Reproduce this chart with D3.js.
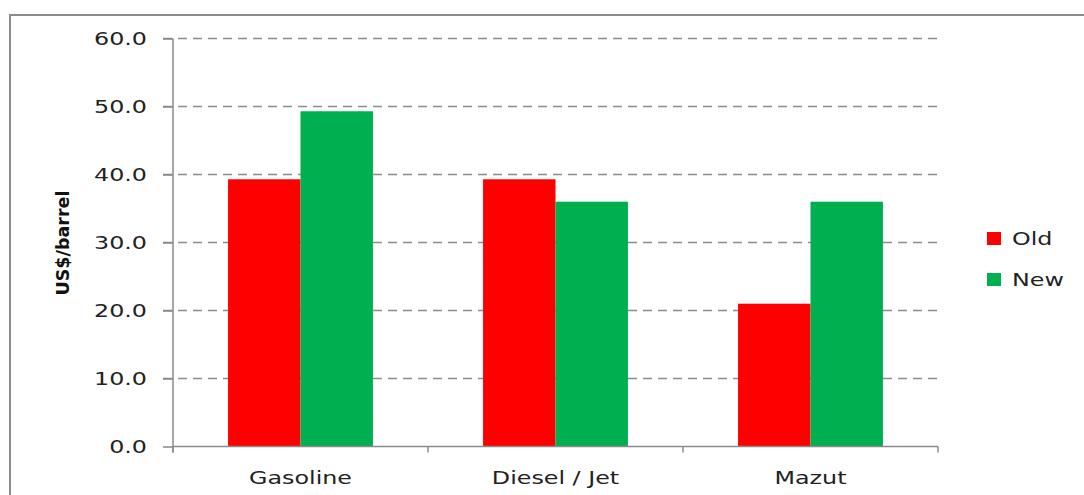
<!DOCTYPE html>
<html>
<head>
<meta charset="utf-8">
<script src="https://cdn.jsdelivr.net/npm/d3@7"></script>
<style>
  body { margin: 0; background: #fff; }
  svg { display: block; }
  .lbl { font-family: "DejaVu Sans", Verdana, sans-serif; fill: #222; }
</style>
</head>
<body>
<div id="chart"></div>
<script>
const categories = ["Gasoline", "Diesel / Jet", "Mazut"];
const series = ["Old", "New"];
const oldValues = [39.3, 39.3, 21.0];
const newValues = [49.3, 36.0, 36.0];
const yTicks = [0, 10, 20, 30, 40, 50, 60];
const colors = ["#ff0000", "#00b050"];

const W = 1084, H = 495;
const plot = { left: 173, right: 938, top: 38.5, bottom: 446.5 };
const stretch = 1.4; // labels in the picture are drawn wide

const svg = d3.select("#chart").append("svg")
  .attr("width", W)
  .attr("height", H);

// outer chart border (runs off the right and bottom edges)
svg.append("rect")
  .attr("x", 10).attr("y", 15)
  .attr("width", 1100).attr("height", 520)
  .attr("fill", "none")
  .attr("stroke", "#8a8a8a")
  .attr("stroke-width", 2);

const y = d3.scaleLinear().domain([0, 60]).range([plot.bottom, plot.top]);
const x0 = d3.scaleBand().domain(categories).range([plot.left, plot.right]).padding(0);
const x1 = d3.scaleBand().domain(series).range([0, x0.bandwidth()])
  .paddingInner(0).paddingOuter(0.76);

// dashed gridlines
svg.selectAll(".grid")
  .data(yTicks.filter(d => d > 0))
  .enter().append("line")
  .attr("class", "grid")
  .attr("x1", plot.left - 10)
  .attr("x2", plot.right)
  .attr("y1", d => y(d))
  .attr("y2", d => y(d))
  .attr("stroke", "#8c8c8c")
  .attr("stroke-width", 1.3)
  .attr("stroke-dasharray", "9,6");

// bars
const rows = categories.map((c, i) => ({ cat: c, vals: [oldValues[i], newValues[i]] }));
const groups = svg.selectAll(".cat")
  .data(rows)
  .enter().append("g")
  .attr("class", "cat")
  .attr("transform", d => "translate(" + x0(d.cat) + ",0)");

groups.selectAll("rect")
  .data(d => d.vals.map((v, i) => ({ s: series[i], v: v, i: i })))
  .enter().append("rect")
  .attr("x", d => x1(d.s))
  .attr("y", d => y(d.v))
  .attr("width", x1.bandwidth())
  .attr("height", d => y(0) - y(d.v))
  .attr("fill", d => colors[d.i]);

// y axis
const yAxis = svg.append("g")
  .attr("transform", "translate(" + plot.left + ",0)")
  .call(d3.axisLeft(y).tickValues(yTicks).tickSize(10).tickFormat(""));
yAxis.select(".domain").attr("d", "M0," + plot.top + "V" + (plot.bottom + 6));
yAxis.selectAll("path, line").attr("stroke", "#8a8a8a").attr("stroke-width", 1.5);

svg.selectAll(".ytl")
  .data(yTicks)
  .enter().append("text")
  .attr("class", "ytl lbl")
  .attr("text-anchor", "end")
  .attr("font-size", 17)
  .attr("transform", d => "translate(147," + (y(d) + 6.5) + ") scale(" + stretch + ",1)")
  .text(d => d3.format(".1f")(d));

// x axis
const xAxis = svg.append("g")
  .attr("transform", "translate(0," + plot.bottom + ")");
xAxis.append("line")
  .attr("x1", plot.left).attr("x2", plot.right)
  .attr("stroke", "#8a8a8a").attr("stroke-width", 1.5);
xAxis.selectAll(".xtick")
  .data(categories.map(c => x0(c)).concat([plot.right]))
  .enter().append("line")
  .attr("class", "xtick")
  .attr("x1", d => d).attr("x2", d => d)
  .attr("y1", 0).attr("y2", 6)
  .attr("stroke", "#8a8a8a").attr("stroke-width", 1.5);

svg.selectAll(".xtl")
  .data(categories)
  .enter().append("text")
  .attr("class", "xtl lbl")
  .attr("text-anchor", "middle")
  .attr("font-size", 17)
  .attr("transform", d => "translate(" + (x0(d) + x0.bandwidth() / 2) + ",484) scale(" + stretch + ",1)")
  .text(d => d);

// y axis title
svg.append("text")
  .attr("transform", "translate(69,243) rotate(-90)")
  .attr("text-anchor", "middle")
  .attr("font-family", "'Liberation Sans Narrow', 'DejaVu Sans Condensed', sans-serif")
  .attr("font-weight", "bold")
  .attr("font-size", 17)
  .attr("textLength", 105)
  .attr("lengthAdjust", "spacingAndGlyphs")
  .attr("fill", "#111")
  .text("US$/barrel");

// legend
const legend = svg.selectAll(".legend")
  .data(series)
  .enter().append("g")
  .attr("class", "legend")
  .attr("transform", (d, i) => "translate(987," + (232 + i * 41) + ")");
legend.append("rect")
  .attr("width", 14).attr("height", 13)
  .attr("fill", (d, i) => colors[i]);
legend.append("text")
  .attr("class", "lbl")
  .attr("font-size", 17)
  .attr("transform", "translate(25,13) scale(" + stretch + ",1)")
  .text(d => d);
</script>
</body>
</html>
